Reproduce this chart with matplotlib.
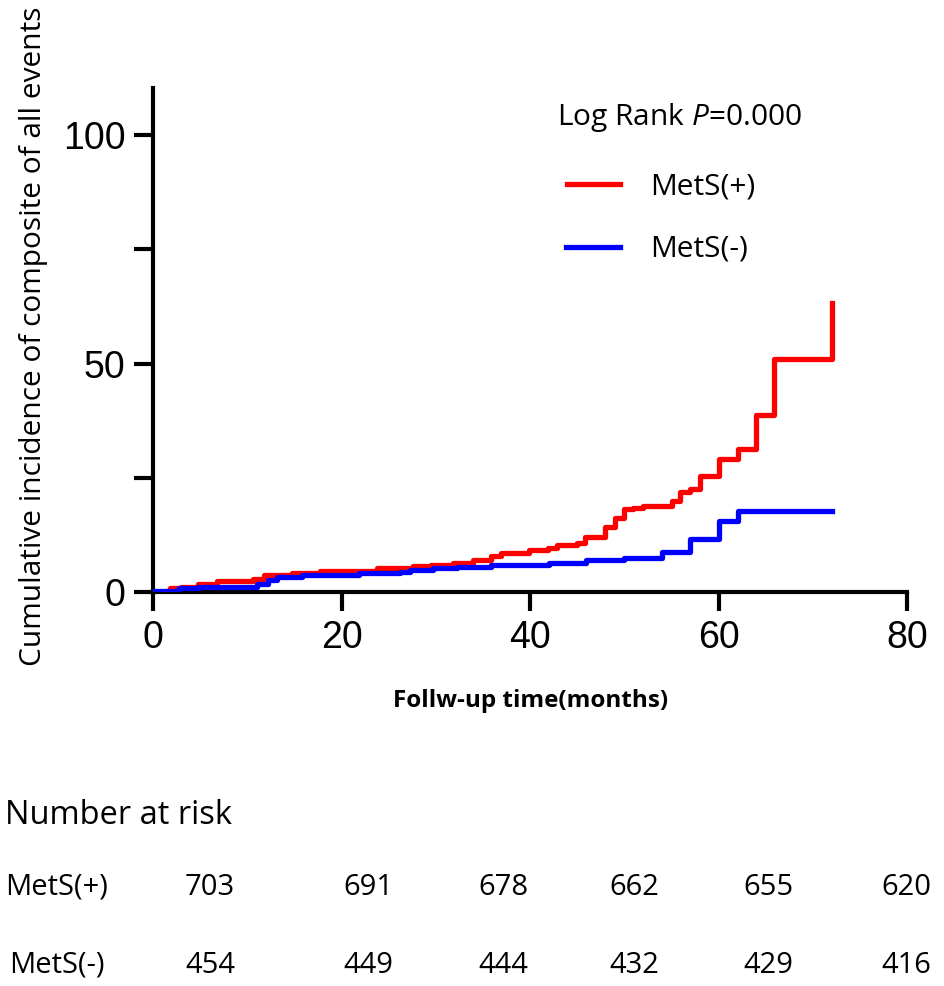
import numpy as np
import matplotlib.pyplot as plt

plt.rcParams['mathtext.fontset'] = 'custom'
plt.rcParams['mathtext.it'] = 'Open Sans:italic'
plt.rcParams['mathtext.rm'] = 'Open Sans'

# Kaplan-Meier style cumulative incidence
red_t = [0, 1.3, 1.8, 3.0, 4.8, 6.8, 10.6, 11.8, 14.7, 17.7, 23.8, 27.6, 29.5,
         31.8, 33.9, 35.9, 36.9, 39.9, 41.9, 42.9, 45.0, 45.8, 47.9, 49.0, 50.0,
         50.9, 52.0, 55.0, 55.9, 57.0, 58.0, 60.0, 62.0, 64.0, 65.9, 72.0]
red_y = [0, 0.3, 0.8, 1.2, 1.7, 2.4, 2.8, 3.7, 4.2, 4.6, 5.2, 5.7, 6.0,
         6.4, 7.1, 7.8, 8.5, 9.2, 9.6, 10.3, 10.8, 12.0, 14.2, 16.1, 18.1,
         18.4, 18.8, 20.0, 21.9, 22.5, 25.5, 29.1, 31.3, 38.7, 51.0, 63.2]

blue_t = [0, 2.7, 4.8, 11.0, 12.2, 13.1, 15.8, 21.8, 26.2, 27.3, 29.7, 32.2,
          35.9, 42.0, 45.9, 50.0, 54.0, 57.0, 60.0, 62.0, 72.0]
blue_y = [0.2, 0.8, 1.2, 1.8, 2.6, 3.2, 3.7, 4.1, 4.4, 4.8, 5.2, 5.5,
          5.9, 6.3, 7.0, 7.5, 8.8, 11.7, 15.6, 17.8, 17.8]

groups = ["MetS(+)", "MetS(-)"]
risk_plus = [703, 691, 678, 662, 655, 620]
risk_minus = [454, 449, 444, 432, 429, 416]

fig = plt.figure(figsize=(9.45, 9.86), dpi=100)
ax = fig.add_axes([0.162, 0.3996, 0.798, 0.511])

ax.plot(red_t, red_y, drawstyle="steps-post", color="#ff0000", lw=3.8, zorder=3)
ax.plot(blue_t, blue_y, drawstyle="steps-post", color="#0000ff", lw=3.8, zorder=4)

ax.set_xlim(0, 80)
ax.set_ylim(0, 110.3)
ax.set_xticks([0, 20, 40, 60, 80])
ax.set_yticks([0, 50, 100])
ax.set_yticks([25, 75], minor=True)
for s in ["top", "right"]:
    ax.spines[s].set_visible(False)
for s in ["left", "bottom"]:
    ax.spines[s].set_linewidth(3)
ax.tick_params(which="both", direction="out", length=14, width=3,
               labelsize=27, pad=6)
for lab in ax.get_xticklabels() + ax.get_yticklabels():
    lab.set_fontfamily("Liberation Sans")

fig.text(0.035, 0.659, "Cumulative incidence of composite of all events",
         rotation=90, ha="center", va="center", fontsize=21.5,
         family="Open Sans")
fig.text(0.561, 0.289, "Follw-up time(months)", ha="center", va="center",
         fontsize=17.5, fontweight="bold", family="Open Sans")

# legend block
fig.text(0.589, 0.881, "Log Rank $P$=0.000", ha="left", va="center",
         fontsize=21.5, family="Open Sans")
fig.lines.append(plt.Line2D([0.600, 0.656], [0.813, 0.813], color="#ff0000",
                            lw=3.8, transform=fig.transFigure))
fig.lines.append(plt.Line2D([0.599, 0.656], [0.750, 0.750], color="#0000ff",
                            lw=3.8, transform=fig.transFigure))
fig.text(0.688, 0.810, groups[0], ha="left", va="center", fontsize=21.5,
         family="Open Sans")
fig.text(0.688, 0.747, groups[1], ha="left", va="center", fontsize=21.5,
         family="Open Sans")

# number at risk table
col_x = [210, 368, 503, 634, 768, 906]
fig.text(0.005, 0.173, "Number at risk", ha="left", va="center", fontsize=23.5,
         family="Open Sans")
fig.text(0.005, 0.100, groups[0], ha="left", va="center", fontsize=21,
         family="Open Sans")
fig.text(0.010, 0.021, groups[1], ha="left", va="center", fontsize=21,
         family="Open Sans")
for x, a, b in zip(col_x, risk_plus, risk_minus):
    fig.text(x / 945, 0.100, str(a), ha="center", va="center", fontsize=21,
             family="Open Sans")
    fig.text(x / 945, 0.021, str(b), ha="center", va="center", fontsize=21,
             family="Open Sans")

fig.savefig("out.png", dpi=100)
